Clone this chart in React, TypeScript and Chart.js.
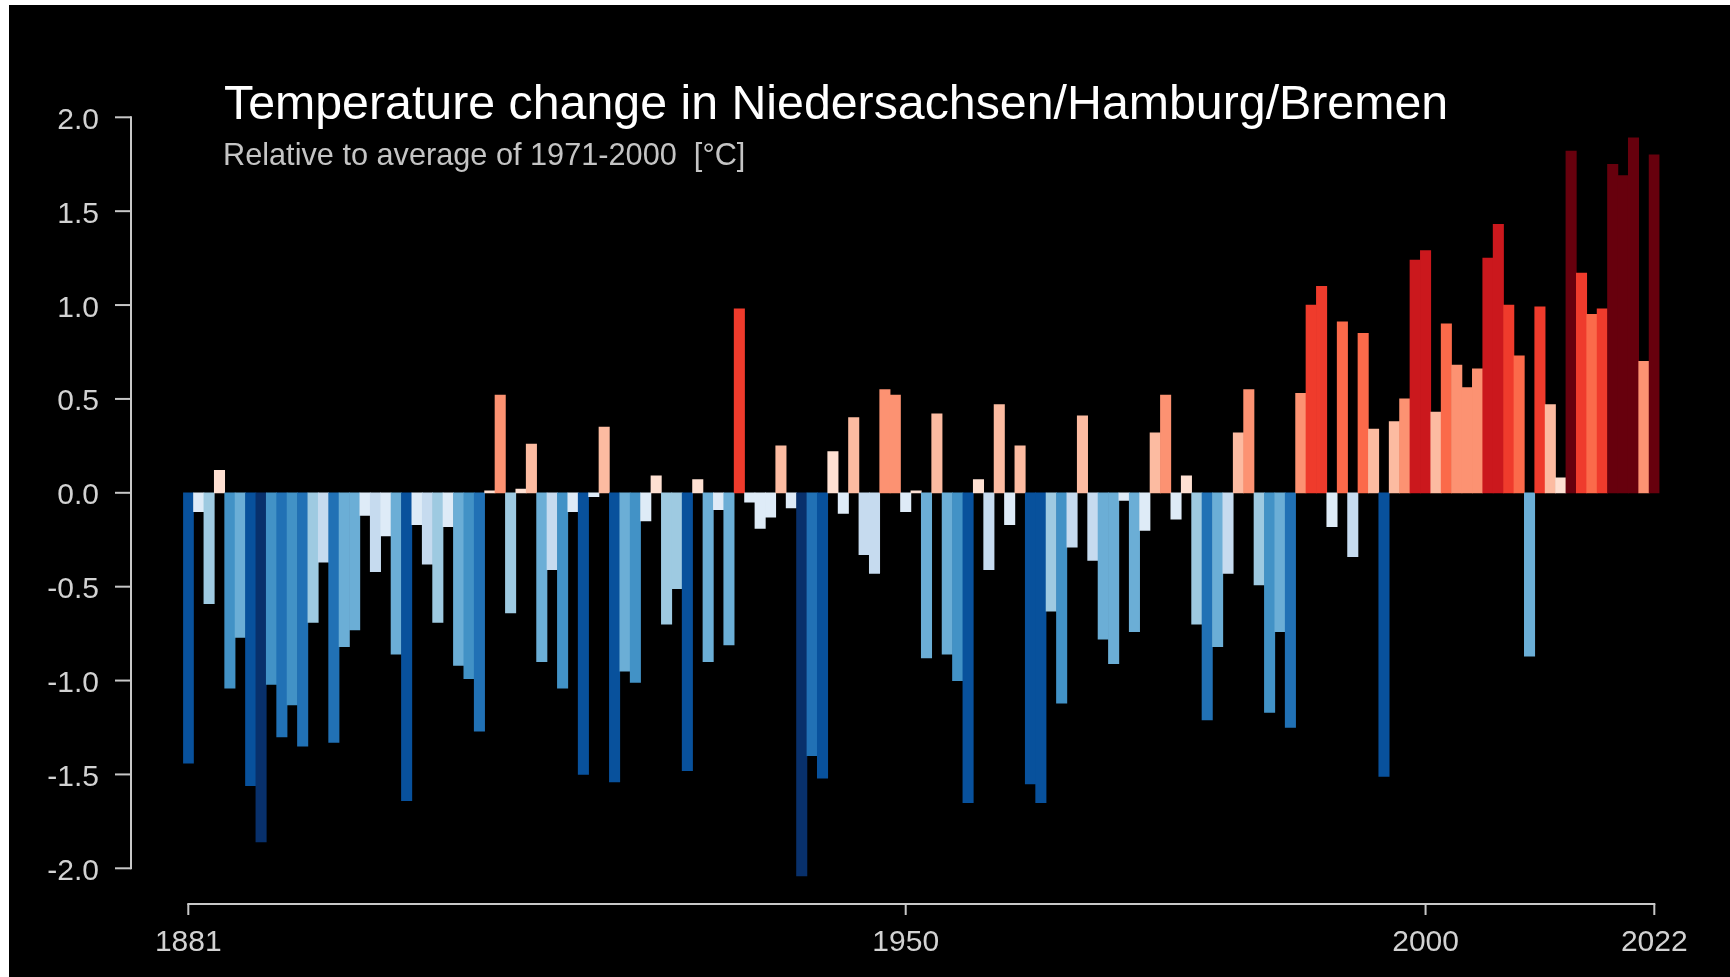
import React, { useEffect, useRef } from "react";
import { Chart, registerables } from "chart.js";

Chart.register(...registerables);

const FIRST_YEAR = 1881;
const LAST_YEAR = 2022;
const years: string[] = [];
for (let y = FIRST_YEAR; y <= LAST_YEAR; y++) years.push(String(y));

// Temperature anomaly [°C] relative to 1971-2000, one value per year 1881..2022
const anomalies: number[] = [
  -1.44, -0.10, -0.59, 0.12, -1.04, -0.77, -1.56, -1.86, -1.02, -1.30, // 1881-1890
  -1.13, -1.35, -0.69, -0.37, -1.33, -0.82, -0.73, -0.12, -0.42, -0.23, // 1891-1900
  -0.86, -1.64, -0.17, -0.38, -0.69, -0.18, -0.92, -0.99, -1.27, 0.01, // 1901-1910
  0.52, -0.64, 0.02, 0.26, -0.90, -0.41, -1.04, -0.10, -1.50, -0.02, // 1911-1920
  0.35, -1.54, -0.95, -1.01, -0.15, 0.09, -0.70, -0.51, -1.48, 0.07, // 1921-1930
  -0.90, -0.09, -0.81, 0.98, -0.05, -0.19, -0.13, 0.25, -0.08, -2.04, // 1931-1940
  -1.40, -1.52, 0.22, -0.11, 0.40, -0.33, -0.43, 0.55, 0.52, -0.10, // 1941-1950
  0.01, -0.88, 0.42, -0.86, -1.00, -1.65, 0.07, -0.41, 0.47, -0.17, // 1951-1960
  0.25, -1.55, -1.65, -0.63, -1.12, -0.29, 0.41, -0.36, -0.78, -0.91, // 1961-1970
  -0.04, -0.74, -0.20, 0.32, 0.52, -0.14, 0.09, -0.70, -1.21, -0.82, // 1971-1980
  -0.43, 0.32, 0.55, -0.49, -1.17, -0.74, -1.25, 0.53, 1.00, 1.10, // 1981-1990
  -0.18, 0.91, -0.34, 0.85, 0.34, -1.51, 0.38, 0.50, 1.24, 1.29, // 1991-2000
  0.43, 0.90, 0.68, 0.56, 0.66, 1.25, 1.43, 1.00, 0.73, -0.87, // 2001-2010
  0.99, 0.47, 0.08, 1.82, 1.17, 0.95, 0.98, 1.75, 1.69, 1.89, // 2011-2020
  0.70, 1.80, // 2021-2022
];

const yTickValues: number[] = [-2.0, -1.5, -1.0, -0.5, 0.0, 0.5, 1.0, 1.5, 2.0];
const xTickYears: string[] = ["1881", "1950", "2000", "2022"];

const TITLE = "Temperature change in Niedersachsen/Hamburg/Bremen";
const SUBTITLE = "Relative to average of 1971-2000  [°C]";

const REDS = ["#fee0d2", "#fcbba1", "#fc9272", "#fb6a4a", "#ef3b2c", "#cb181d", "#a50f15", "#67000d"];
const BLUES = ["#deebf7", "#c6dbef", "#9ecae1", "#6baed6", "#4292c6", "#2171b5", "#08519c", "#08306b"];
function colorFor(v: number): string {
  const bin = Math.min(7, Math.floor(Math.abs(v) / 0.24));
  return v >= 0 ? REDS[bin] : BLUES[bin];
}

const FONT = "'Liberation Sans', Arial, Helvetica, sans-serif";
const AXIS_COLOR = "#c8c8c8";
const LABEL_COLOR = "#d2d2d2";

const CANVAS_W = 1721;
const CANVAS_H = 972;

const decorPlugin = {
  id: "decor",
  afterDraw(chart: any) {
    const ctx = chart.ctx as CanvasRenderingContext2D;
    const xs = chart.scales.x;
    const ys = chart.scales.y;
    ctx.save();

    // Title & subtitle
    ctx.textAlign = "left";
    ctx.textBaseline = "alphabetic";
    ctx.fillStyle = "#ffffff";
    ctx.font = `48.3px ${FONT}`;
    ctx.fillText(TITLE, 215, 114);
    ctx.fillStyle = "#c4c4c4";
    ctx.font = `30.7px ${FONT}`;
    ctx.fillText(SUBTITLE, 214, 160);

    // Y axis (range frame)
    ctx.strokeStyle = AXIS_COLOR;
    ctx.lineWidth = 2;
    const spineX = 122;
    const yTop = ys.getPixelForValue(yTickValues[yTickValues.length - 1]);
    const yBot = ys.getPixelForValue(yTickValues[0]);
    ctx.beginPath();
    ctx.moveTo(spineX, yTop - 1);
    ctx.lineTo(spineX, yBot + 1);
    ctx.stroke();
    ctx.fillStyle = LABEL_COLOR;
    ctx.font = `30px ${FONT}`;
    ctx.textAlign = "right";
    for (const v of yTickValues) {
      const py = ys.getPixelForValue(v);
      ctx.beginPath();
      ctx.moveTo(106, py);
      ctx.lineTo(spineX, py);
      ctx.stroke();
      ctx.fillText(v.toFixed(1), 90, py + 11.5);
    }

    // X axis (range frame)
    const axisY = 899;
    const x0 = xs.getPixelForValue(0);
    const x1 = xs.getPixelForValue(years.length - 1);
    ctx.beginPath();
    ctx.moveTo(x0 - 1, axisY);
    ctx.lineTo(x1 + 1, axisY);
    ctx.stroke();
    ctx.textAlign = "center";
    for (const yr of xTickYears) {
      const px = xs.getPixelForValue(years.indexOf(yr));
      ctx.beginPath();
      ctx.moveTo(px, axisY);
      ctx.lineTo(px, axisY + 11);
      ctx.stroke();
      ctx.fillText(yr, px, 945.5);
    }
    ctx.restore();
  },
};

export default function App() {
  const canvasRef = useRef<HTMLCanvasElement | null>(null);

  useEffect(() => {
    const canvas = canvasRef.current;
    if (!canvas) return;
    const chart = new Chart(canvas, {
      type: "bar",
      data: {
        labels: years,
        datasets: [
          {
            data: anomalies,
            backgroundColor: anomalies.map(colorFor),
            borderColor: anomalies.map(colorFor),
            borderWidth: 0,
            barPercentage: 1.0,
            categoryPercentage: 1.0,
          },
        ],
      },
      options: {
        responsive: false,
        animation: false,
        devicePixelRatio: 1,
        layout: {
          padding: { left: 174.1, right: 70.5, top: 112.3, bottom: 71.15 },
        },
        plugins: {
          legend: { display: false },
          tooltip: { enabled: false },
          title: { display: false },
        },
        scales: {
          x: { type: "category", display: false, offset: true },
          y: { type: "linear", display: false, min: -2.2, max: 2.0 },
        },
      },
      plugins: [decorPlugin],
    });
    return () => chart.destroy();
  }, []);

  return (
    <div
      style={{
        position: "fixed",
        left: 9,
        top: 5,
        width: CANVAS_W,
        height: CANVAS_H,
        background: "#000000",
        overflow: "hidden",
      }}
    >
      <canvas
        ref={canvasRef}
        width={CANVAS_W}
        height={CANVAS_H}
        style={{ display: "block", width: CANVAS_W, height: CANVAS_H }}
      />
    </div>
  );
}
